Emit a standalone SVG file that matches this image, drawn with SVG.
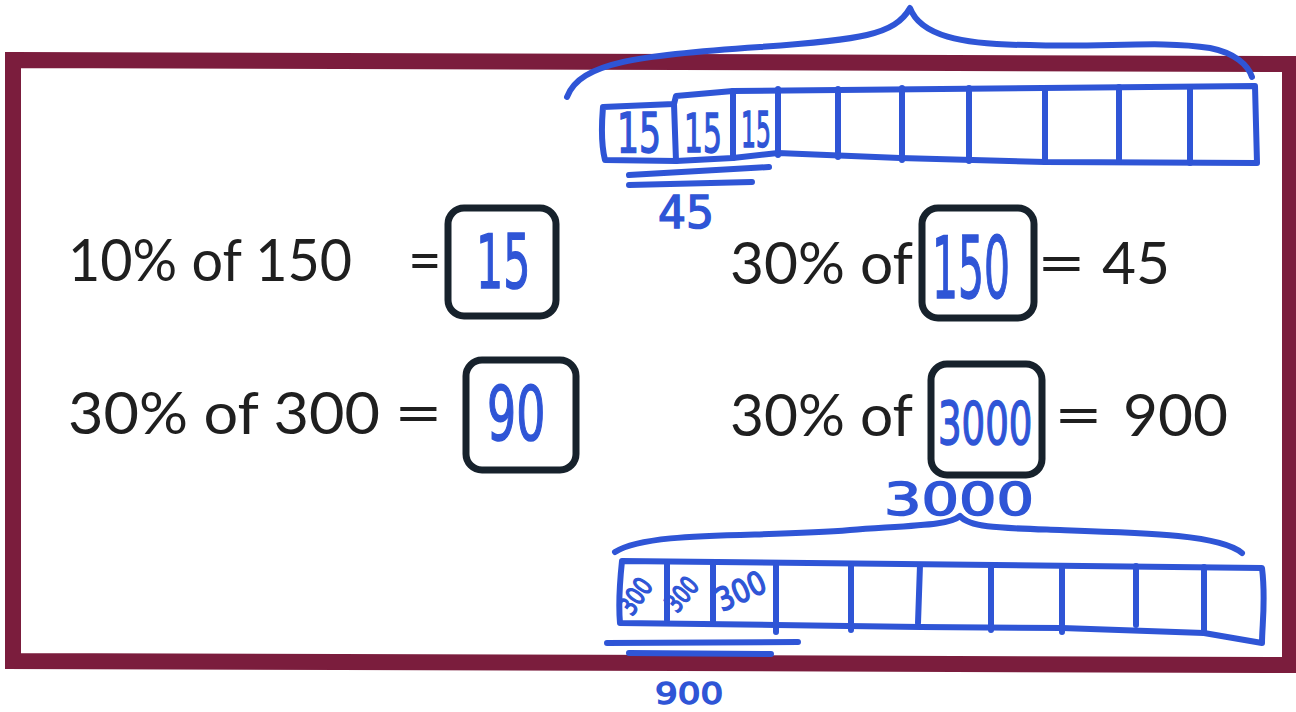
<svg xmlns="http://www.w3.org/2000/svg" width="1296" height="712" viewBox="0 0 1296 712">
<style>
.print{font-family:Lato,"Noto Sans","Liberation Sans",sans-serif;font-size:58px;fill:#1f1f1f}
.box{fill:#ffffff;stroke:#17222c;stroke-width:7}
.pen{fill:none;stroke:#2f55d6;stroke-width:6;stroke-linecap:round;stroke-linejoin:round}
.hand{font-family:"DejaVu Sans","Liberation Sans",sans-serif;fill:#2f55d6;stroke:#2f55d6;stroke-width:1.5}
</style>
<rect x="0" y="0" width="1296" height="712" fill="#ffffff"/>
<g id="frame">
<path d="M13,60 L1290,64 L1290,665 L13,661 Z" fill="#ffffff" stroke="#7b1d3d" stroke-width="16" stroke-linejoin="miter"/>
</g>
<g id="eq1">
<text class="print" x="68" y="281" textLength="284" lengthAdjust="spacingAndGlyphs">10% of 150</text>
<text class="print" x="408" y="281">=</text>
<rect class="box" x="448" y="208" width="108" height="108" rx="16"/>
<text class="hand" transform="translate(476,288) scale(0.57,1)" font-size="75">15</text>
</g>
<g id="eq2">
<text class="print" x="68" y="434" textLength="312" lengthAdjust="spacingAndGlyphs">30% of 300</text>
<text class="print" transform="translate(394,434) scale(1.45,1)">=</text>
<rect class="box" x="466" y="360" width="110" height="110" rx="16"/>
<text class="hand" transform="translate(487,440) scale(0.62,1)" font-size="74">90</text>
</g>
<g id="eq3">
<text class="print" x="730" y="284" textLength="183" lengthAdjust="spacingAndGlyphs">30% of</text>
<rect class="box" x="922" y="208" width="112" height="110" rx="16"/>
<text class="hand" transform="translate(932,298) scale(0.475,1)" font-size="86">150</text>
<text class="print" transform="translate(1037,284) scale(1.45,1)">=</text>
<text class="print" x="1102" y="284" textLength="68" lengthAdjust="spacingAndGlyphs">45</text>
</g>
<g id="eq4">
<text class="print" x="730" y="436" textLength="183" lengthAdjust="spacingAndGlyphs">30% of</text>
<rect class="box" x="931" y="364" width="111" height="111" rx="16"/>
<text class="hand" transform="translate(938,444) scale(0.64,1)" font-size="58">3000</text>
<text class="print" transform="translate(1054,436) scale(1.45,1)">=</text>
<text class="print" x="1123" y="436" textLength="105" lengthAdjust="spacingAndGlyphs">900</text>
</g>
<g id="tape-top">
<path class="pen" d="M567,97 C580,62 640,55 760,47 C860,40 895,35 910,8 C920,35 960,45 1030,45 C1100,48 1160,40 1210,48 C1235,53 1248,65 1252,77"/>
<path class="pen" d="M603,107 L674,104 L676,96 L733,91 L1255,86 L1257,163 L1045,162 L900,158 L778,153 L733,158 L676,161 L605,160 C600,140 602,120 603,107 Z"/>
<path class="pen" d="M674,104 L676,161 M733,91 L733,158 M778,89 L778,155 M838,89 L838,157 M902,88 L902,160 M969,88 L969,161 M1045,88 L1045,162 M1119,87 L1119,162 M1190,87 L1190,163"/>
<path class="pen" d="M629,175 L769,167 M629,185 L752,182" stroke-width="7"/>
<text class="hand" transform="translate(617,152) scale(0.63,1)" font-size="55">15</text>
<text class="hand" transform="translate(684,152) scale(0.56,1)" font-size="53">15</text>
<text class="hand" transform="translate(741,147) scale(0.47,1)" font-size="50">15</text>
<text class="hand" x="658" y="228" font-size="44">45</text>
</g>
<g id="tape-bottom">
<text class="hand" transform="translate(884,515) scale(1.34,1)" font-size="44">3000</text>
<path class="pen" d="M615,552 C650,530 760,538 850,530 C920,525 950,525 960,516 C970,528 1000,528 1060,530 C1150,533 1220,535 1242,553"/>
<path class="pen" d="M622,561 L1262,568 C1266,600 1262,625 1262,643 L1204,633 L1062,628 L920,627 L776,625 L620,623 C618,600 620,580 622,561 Z"/>
<path class="pen" d="M667,562 L667,620 M713,562 L713,624 M776,563 L776,632 M851,564 L851,630 M920,565 L918,623 M991,565 L991,630 M1062,566 L1062,632 M1136,566 L1136,625 M1204,567 L1204,633"/>
<path class="pen" d="M607,643 L798,642 M629,653 L771,654" stroke-width="6"/>
<text class="hand" transform="translate(632,617) rotate(-55) scale(0.77,1)" font-size="26">300</text>
<text class="hand" transform="translate(677,614) rotate(-50) scale(0.73,1)" font-size="26">300</text>
<text class="hand" transform="translate(722,612) rotate(-25) scale(0.85,1)" font-size="32">300</text>
<text class="hand" transform="translate(655,704) scale(1.19,1)" font-size="30">900</text>
</g>
</svg>
